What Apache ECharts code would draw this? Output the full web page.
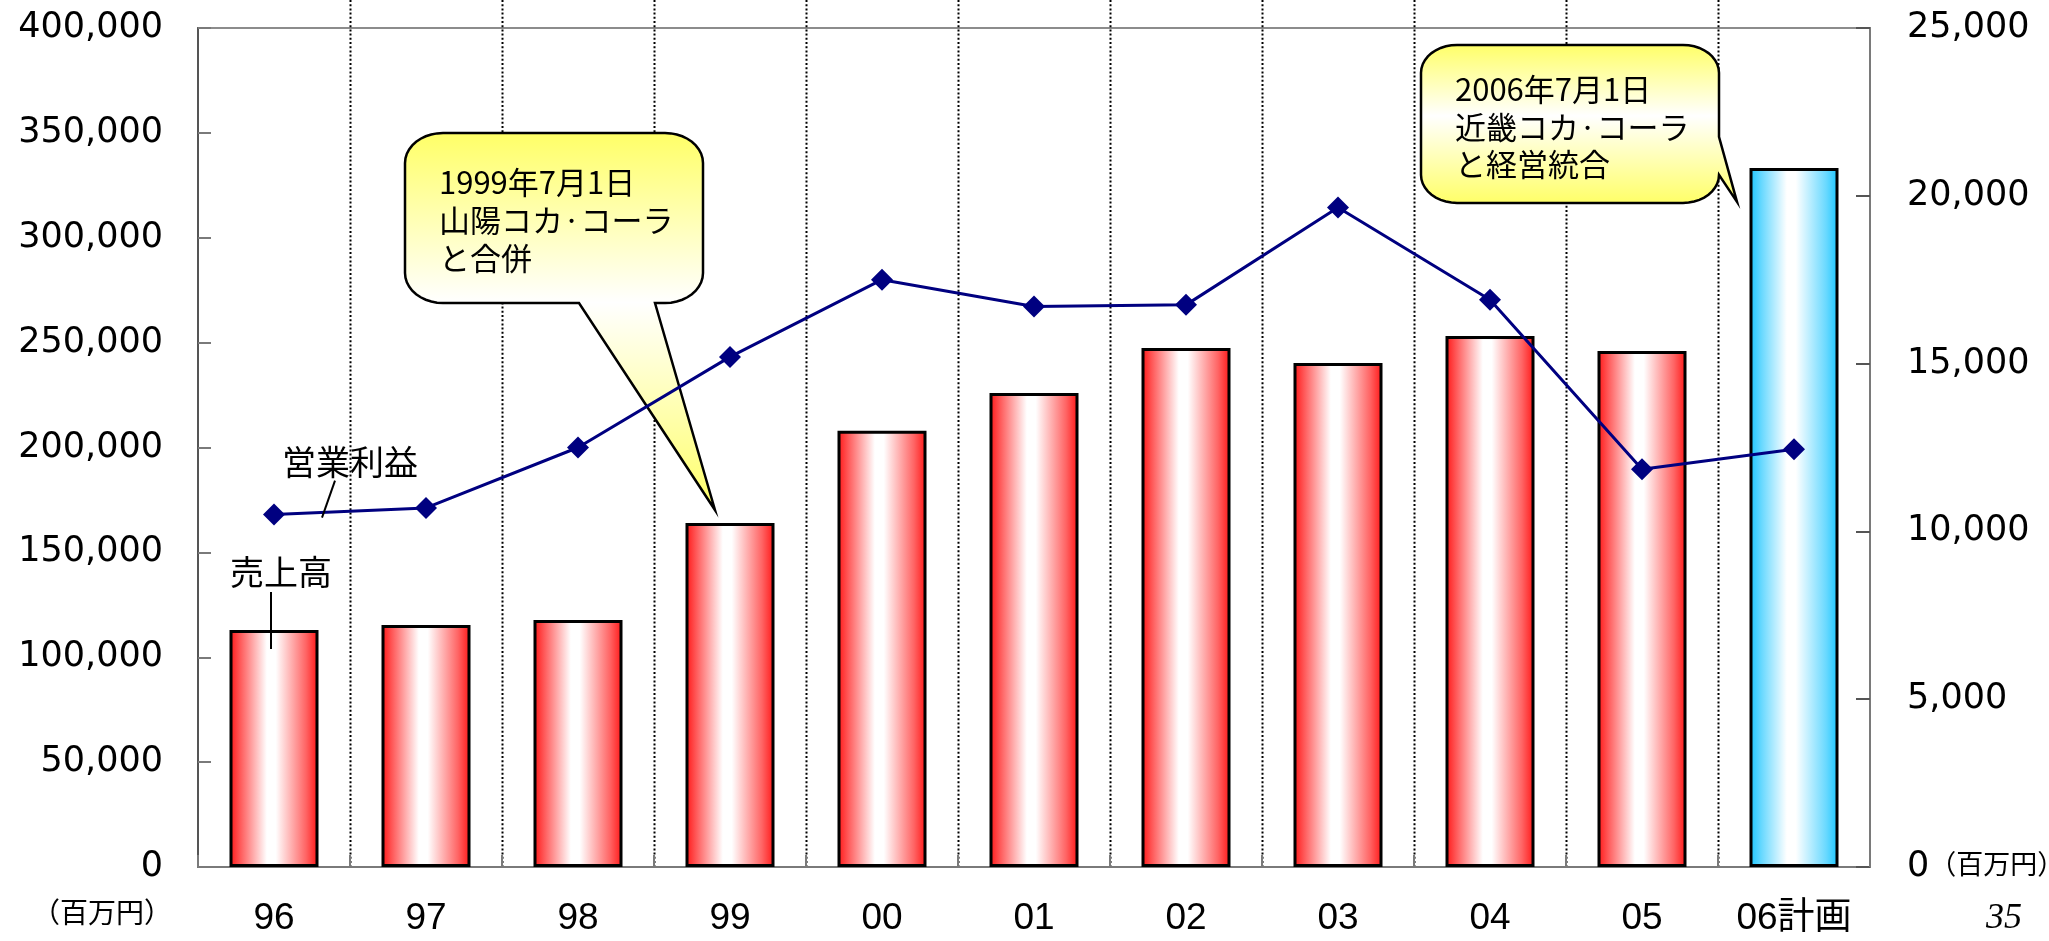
<!DOCTYPE html>
<html>
<head>
<meta charset="utf-8">
<script src="https://cdn.jsdelivr.net/npm/echarts@6/dist/echarts.min.js"></script>
<style>
  html, body { margin: 0; padding: 0; background: #fff; }
  #chart { width: 2049px; height: 941px; }
</style>
</head>
<body>
<div id="chart"></div>
<script>
// Fiscal years (last one is the plan year)
const categories = ['96', '97', '98', '99', '00', '01', '02', '03', '04', '05', '06計画'];
// 売上高 (百万円), left axis
const sales = [113000, 115400, 117800, 164000, 208000, 226000, 247400, 240300, 253200, 246000, 333300];
// 営業利益 (百万円), right axis
const profit = [10500, 10700, 12500, 15200, 17500, 16700, 16750, 19650, 16900, 11850, 12450];
const planIndex = 10;

// Callout texts
const noteMerger = '1999年7月1日\n山陽コカ·コーラ\nと合併';
const noteIntegration = '2006年7月1日\n近畿コカ·コーラ\nと経営統合';

const NUM_FONT = 'DejaVu Sans';
const JP_FONT = '"Noto Sans CJK JP", "Noto Sans CJK SC", sans-serif';

function withCommas(v) {
  return String(v).replace(/\B(?=(\d{3})+(?!\d))/g, ',');
}

function hGrad(edge, mid) {
  return {
    type: 'linear', x: 0, y: 0, x2: 1, y2: 0,
    colorStops: [
      { offset: 0, color: edge },
      { offset: 0.14, color: mid },
      { offset: 0.42, color: '#ffffff' },
      { offset: 0.52, color: '#ffffff' },
      { offset: 0.86, color: mid },
      { offset: 1, color: edge }
    ]
  };
}
const redFill = hGrad('#ff1414', '#ff6464');
const blueFill = hGrad('#18c6ff', '#6ad9ff');

const chart = echarts.init(document.getElementById('chart'), null, { renderer: 'canvas' });

chart.setOption({
  animation: false,
  backgroundColor: '#ffffff',
  grid: {
    left: 198, right: 179, top: 28, bottom: 74,
    containLabel: false, outerBoundsMode: 'none',
    show: true, borderColor: '#8c8c8c', borderWidth: 2, backgroundColor: 'transparent'
  },
  xAxis: {
    type: 'category',
    data: categories,
    boundaryGap: true,
    axisLine: { lineStyle: { color: '#7a7a7a', width: 2 } },
    axisTick: { show: true, inside: true, length: 12, interval: 0, lineStyle: { color: '#7a7a7a', width: 2 } },
    axisLabel: {
      interval: 0, margin: 33, color: '#000',
      fontFamily: '"Liberation Sans", ' + JP_FONT, fontSize: 37
    },
    splitLine: { show: false }
  },
  yAxis: [
    {
      type: 'value', min: 0, max: 400000, interval: 50000, position: 'left',
      axisLine: { show: true, lineStyle: { color: '#555', width: 2 } },
      axisTick: { show: true, inside: true, length: 13, lineStyle: { color: '#7a7a7a', width: 2 } },
      axisLabel: { margin: 35, color: '#000', fontFamily: NUM_FONT, fontSize: 35, formatter: withCommas },
      splitLine: { show: false }
    },
    {
      type: 'value', min: 0, max: 25000, interval: 5000, position: 'right',
      axisLine: { show: true, lineStyle: { color: '#7a7a7a', width: 2 } },
      axisTick: { show: true, inside: true, length: 14, lineStyle: { color: '#555', width: 2 } },
      axisLabel: {
        margin: 37, color: '#000', fontFamily: NUM_FONT, fontSize: 35,
        formatter: function (v) { return v === 0 ? '{z|0}{u|（百万円）}' : withCommas(v); },
        rich: {
          z: { fontFamily: NUM_FONT, fontSize: 35, color: '#000' },
          u: { fontFamily: JP_FONT, fontSize: 27, color: '#000', padding: [0, 0, 6, 0] }
        }
      },
      splitLine: { show: false }
    }
  ],
  series: [
    {
      name: '売上高',
      type: 'bar',
      yAxisIndex: 0,
      barWidth: 89,
      z: 2,
      itemStyle: { color: redFill, borderColor: '#000', borderWidth: 3 },
      data: sales.map(function (v, i) {
        return i === planIndex ? { value: v, itemStyle: { color: blueFill } } : v;
      })
    },
    {
      name: '営業利益',
      type: 'line',
      yAxisIndex: 1,
      z: 3,
      symbol: 'diamond',
      symbolSize: 22,
      lineStyle: { color: '#000080', width: 3 },
      itemStyle: { color: '#000080' },
      data: profit
    }
  ]
});

// Outline of a speech bubble: elliptic-corner rectangle with a pointed tail
function bubblePoints(L, T, R, B, rx, ry, tail) {
  const pts = [];
  function arc(cx, cy, a0, a1) {
    for (let k = 0; k <= 10; k++) {
      const a = (a0 + (a1 - a0) * k / 10) * Math.PI / 180;
      pts.push([cx + rx * Math.cos(a), cy + ry * Math.sin(a)]);
    }
  }
  pts.push([L + rx, T]);
  arc(R - rx, T + ry, -90, 0);
  if (tail.side === 'right') tail.points.forEach(function (p) { pts.push(p); });
  arc(R - rx, B - ry, 0, 90);
  if (tail.side === 'bottom') tail.points.forEach(function (p) { pts.push(p); });
  arc(L + rx, B - ry, 90, 180);
  arc(L + rx, T + ry, 180, 270);
  return pts;
}

const bubbleFill = {
  type: 'linear', x: 0, y: 0, x2: 0, y2: 1,
  colorStops: [
    { offset: 0, color: '#ffff66' },
    { offset: 0.45, color: '#ffffff' },
    { offset: 1, color: '#ffff66' }
  ]
};

function layoutGraphics() {
  const axisY = chart.convertToPixel({ yAxisIndex: 0 }, 0);
  const xs = categories.map(function (c) { return chart.convertToPixel({ xAxisIndex: 0 }, c); });
  const els = [];

  // dotted separators between fiscal years
  for (let i = 0; i < xs.length - 1; i++) {
    const x = Math.round((xs[i] + xs[i + 1]) / 2) + 0.5;
    els.push({
      type: 'line', z: 0, silent: true,
      shape: { x1: x, y1: 0, x2: x, y2: axisY - 1 },
      style: { stroke: '#000', lineWidth: 2, lineDash: [2, 2.2] }
    });
  }

  // callout for the 1999 merger, pointing at the 99 bar
  const a1 = chart.convertToPixel({ xAxisIndex: 0, yAxisIndex: 0 }, [categories[3], sales[3]]);
  const b1 = { L: a1[0] - 325, T: a1[1] - 390, R: a1[0] - 27, B: a1[1] - 220 };
  els.push({
    type: 'polygon', z: 1,
    shape: {
      points: bubblePoints(b1.L, b1.T, b1.R, b1.B, 38, 30, {
        side: 'bottom',
        points: [[a1[0] - 75, b1.B], [a1[0] - 15, a1[1] - 13], [a1[0] - 151, b1.B]]
      })
    },
    style: { fill: bubbleFill, stroke: '#000', lineWidth: 2.5 }
  });
  els.push({
    type: 'text', z: 4,
    style: {
      text: noteMerger, x: b1.L + 34, y: b1.T + 30,
      fontFamily: JP_FONT, fontSize: 31, lineHeight: 38, fill: '#000',
      verticalAlign: 'top', align: 'left'
    }
  });

  // callout for the 2006 integration, pointing at the plan bar
  const a2 = chart.convertToPixel({ xAxisIndex: 0, yAxisIndex: 0 }, [categories[planIndex], sales[planIndex]]);
  const b2 = { L: a2[0] - 373, T: a2[1] - 123, R: a2[0] - 75, B: a2[1] + 35 };
  els.push({
    type: 'polygon', z: 1,
    shape: {
      points: bubblePoints(b2.L, b2.T, b2.R, b2.B, 36, 28, {
        side: 'right',
        points: [[b2.R, a2[1] - 31], [a2[0] - 57, a2[1] + 34], [b2.R, b2.B - 28]]
      })
    },
    style: { fill: bubbleFill, stroke: '#000', lineWidth: 2.5 }
  });
  els.push({
    type: 'text', z: 4,
    style: {
      text: noteIntegration, x: b2.L + 34, y: b2.T + 26,
      fontFamily: JP_FONT, fontSize: 31, lineHeight: 37.5, fill: '#000',
      verticalAlign: 'top', align: 'left'
    }
  });

  // series labels with leader lines
  const p0 = chart.convertToPixel({ xAxisIndex: 0, yAxisIndex: 1 }, [categories[0], profit[0]]);
  els.push({
    type: 'text', z: 4,
    style: { text: '営業利益', x: p0[0] + 8, y: p0[1] - 53, fontFamily: JP_FONT, fontSize: 34, fill: '#000', verticalAlign: 'middle' }
  });
  els.push({
    type: 'line', z: 4,
    shape: { x1: p0[0] + 61, y1: p0[1] - 34, x2: p0[0] + 48, y2: p0[1] + 3 },
    style: { stroke: '#000', lineWidth: 2 }
  });
  const s0 = chart.convertToPixel({ xAxisIndex: 0, yAxisIndex: 0 }, [categories[0], sales[0]]);
  els.push({
    type: 'text', z: 4,
    style: { text: '売上高', x: s0[0] - 44, y: s0[1] - 58, fontFamily: JP_FONT, fontSize: 34, fill: '#000', verticalAlign: 'middle' }
  });
  els.push({
    type: 'line', z: 4,
    shape: { x1: s0[0] - 3, y1: s0[1] - 38, x2: s0[0] - 3, y2: s0[1] + 19 },
    style: { stroke: '#000', lineWidth: 2 }
  });

  // unit under the left axis
  els.push({
    type: 'text', z: 4,
    style: { text: '（百万円）', x: 32, y: axisY + 45, fontFamily: JP_FONT, fontSize: 28, fill: '#000', verticalAlign: 'middle' }
  });
  // page number
  els.push({
    type: 'text', z: 4,
    style: { text: '35', x: 1986, y: axisY + 52, fontFamily: '"Liberation Serif", serif', fontStyle: 'italic', fontSize: 36, fill: '#000', verticalAlign: 'middle' }
  });

  chart.setOption({ graphic: { elements: els } });
}

layoutGraphics();
</script>
</body>
</html>
